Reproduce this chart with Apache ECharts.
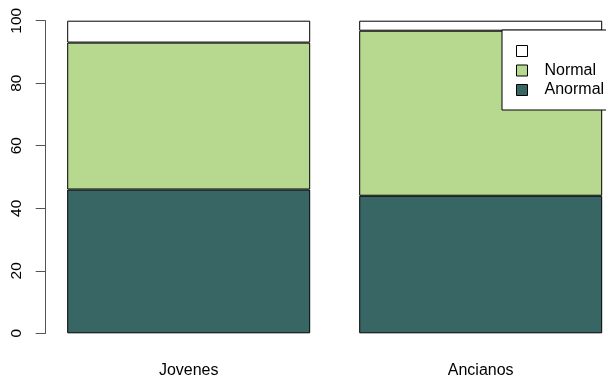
<!DOCTYPE html>
<html>
<head>
<meta charset="utf-8">
<script src="https://cdn.jsdelivr.net/npm/echarts@6/dist/echarts.min.js"></script>
<style>html,body{margin:0;padding:0;background:#fff}#c{width:606px;height:380px}</style>
</head>
<body>
<div id="c"></div>
<script>
const categories = ['Jovenes', 'Ancianos'];
const anormal = [46, 44];
const normal = [47, 52.8];
const blank = [7, 3.2];
const yTicks = [0, 20, 40, 60, 80, 100];

const chart = echarts.init(document.getElementById('c'), null, {renderer: 'canvas'});
const font = 'Liberation Sans, Arial, sans-serif';
const border = {borderColor: '#000', borderWidth: 1};
chart.setOption({
  animation: false,
  backgroundColor: '#fff',
  grid: {left: 42.7, top: 20.7, width: 584, height: 312.6, outerBoundsMode: 'none', containLabel: false},
  legend: {
    orient: 'vertical',
    left: 502, top: 30,
    backgroundColor: '#fff',
    borderColor: '#000', borderWidth: 1,
    padding: [13, 10, 12, 14],
    itemWidth: 11, itemHeight: 11, itemGap: 3.5,
    icon: 'rect',
    itemStyle: {borderColor: '#000', borderWidth: 1},
    textStyle: {fontFamily: font, fontSize: 16, color: '#000', lineHeight: 16, padding: [0, 0, 0, 12]},
    data: [' ', 'Normal', 'Anormal']
  },
  xAxis: {
    type: 'category', data: categories,
    axisLine: {show: false}, axisTick: {show: false},
    axisLabel: {fontFamily: font, fontSize: 16, color: '#000', margin: 29, lineHeight: 16}
  },
  yAxis: {
    type: 'value', min: yTicks[0], max: yTicks[yTicks.length - 1], interval: 20,
    offset: -3,
    splitLine: {show: false},
    axisLine: {show: true, lineStyle: {color: '#555', width: 1}},
    axisTick: {show: true, length: 10, lineStyle: {color: '#555', width: 1}},
    axisLabel: {rotate: 90, fontFamily: font, fontSize: 15.5, color: '#000', margin: 21}
  },
  series: [
    {name: 'Anormal', type: 'bar', stack: 's', data: anormal, barWidth: 243, itemStyle: Object.assign({color: '#376664'}, border)},
    {name: 'Normal', type: 'bar', stack: 's', data: normal, barWidth: 243, itemStyle: Object.assign({color: '#b6d88f'}, border)},
    {name: ' ', type: 'bar', stack: 's', data: blank, barWidth: 243, itemStyle: Object.assign({color: '#ffffff'}, border)}
  ]
});
</script>
</body>
</html>
